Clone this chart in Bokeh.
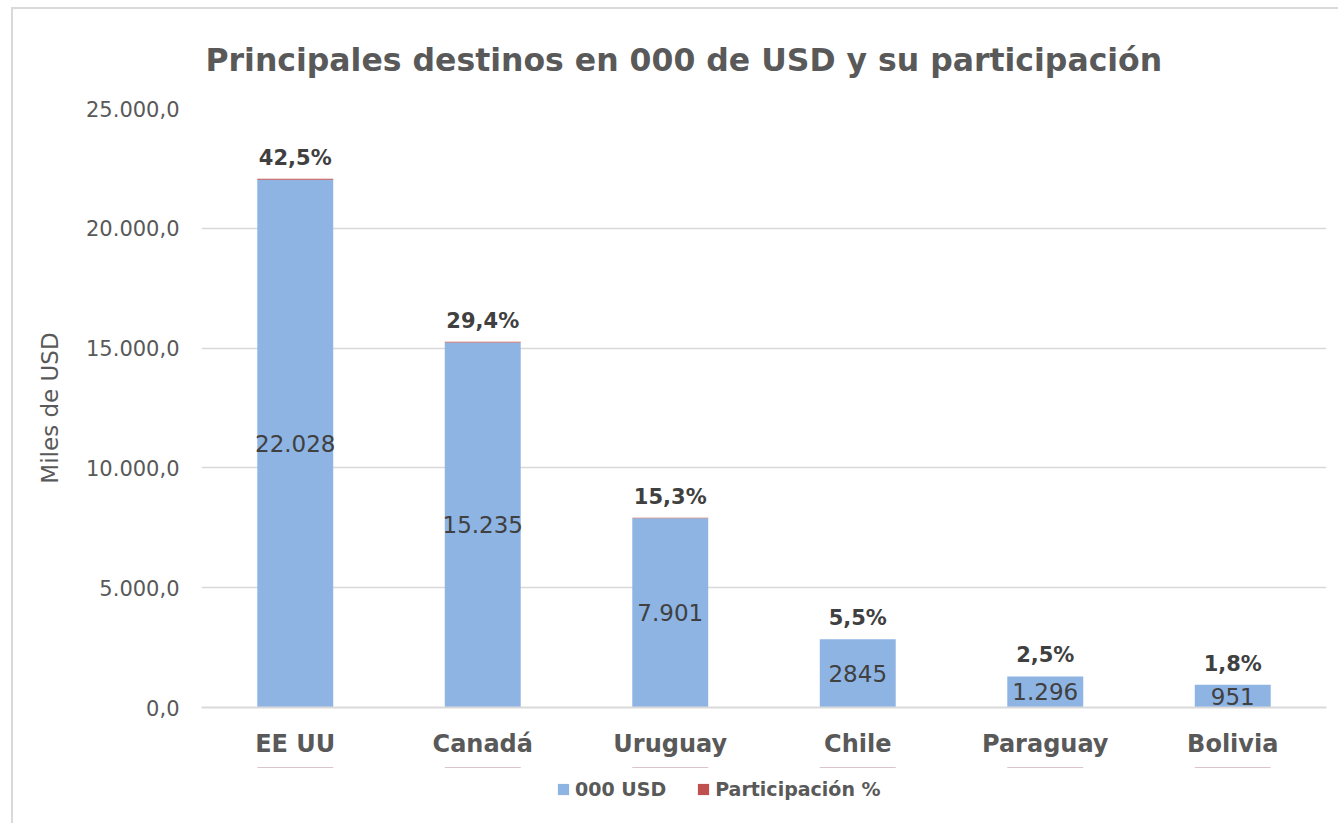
from bokeh.plotting import figure
from bokeh.layouts import column
from bokeh.models import ColumnDataSource, FixedTicker, Legend, LegendItem, Title, Range1d
from bokeh.core.properties import value
from bokeh.embed import file_html
from bokeh.resources import INLINE

countries = ["EE UU", "Canadá", "Uruguay", "Chile", "Paraguay", "Bolivia"]
usd_000 = [22028, 15235, 7901, 2845, 1296, 951]
participacion = [42.5, 29.4, 15.3, 5.5, 2.5, 1.8]
usd_labels = ["22.028", "15.235", "7.901", "2845", "1.296", "951"]
y_ticks = [0, 5000, 10000, 15000, 20000, 25000]
y_tick_labels = ["0,0", "5.000,0", "10.000,0", "15.000,0", "20.000,0", "25.000,0"]
series_names = ["000 USD", "Participación %"]

FONT = "DejaVu Sans"
BLUE = "#8EB4E3"
RED = "#C0504D"
TXT = "#595959"
DARK = "#404040"

src = ColumnDataSource(dict(
    country=countries,
    usd=usd_000,
    part=participacion,
    mid=[v / 2 for v in usd_000],
    top=[v + q for v, q in zip(usd_000, participacion)],
    usd_lbl=usd_labels,
    pct_lbl=[f"{q:.1f}%".replace(".", ",") for q in participacion],
))

p = figure(x_range=countries, y_range=(0, 25000), frame_width=1125, frame_height=599,
           output_backend="svg", toolbar_location=None,
           min_border_left=188, min_border_right=12, min_border_top=98, min_border_bottom=60)

rs = p.vbar_stack(["usd", "part"], x="country", width=0.405, source=src,
                  color=[BLUE, RED], line_color=None)

p.text(x="country", y="mid", text="usd_lbl", source=src, text_align="center",
       text_baseline="middle", text_font=value(FONT), text_font_size="23px", text_color=DARK)
p.text(x="country", y="top", text="pct_lbl", source=src, text_align="center",
       text_baseline="bottom", text_font=value(FONT), text_font_size="21px",
       text_font_style="bold", text_color=DARK, y_offset=-9)

p.title = Title(text="Principales destinos en 000 de USD y su participación",
                align="left", offset=4, text_font=FONT, text_font_size="31.5px",
                text_font_style="bold", text_color=TXT, standoff=61)

p.yaxis.ticker = FixedTicker(ticks=y_ticks)
p.yaxis.major_label_overrides = {t: l for t, l in zip(y_ticks, y_tick_labels)}
p.yaxis.axis_label = "Miles de USD"
p.yaxis.axis_label_text_font = FONT
p.yaxis.axis_label_text_font_size = "23px"
p.yaxis.axis_label_text_font_style = "normal"
p.yaxis.axis_label_text_color = TXT
p.yaxis.axis_label_standoff = 20
p.yaxis.major_label_text_font = FONT
p.yaxis.major_label_text_font_size = "21px"
p.yaxis.major_label_text_color = TXT
p.yaxis.major_label_standoff = 22
p.yaxis.axis_line_color = None
p.yaxis.major_tick_line_color = None
p.yaxis.major_tick_out = 0
p.yaxis.minor_tick_line_color = None
p.yaxis.minor_tick_out = 0

p.xaxis.axis_line_color = "#D9D9D9"
p.xaxis.axis_line_width = 2
p.xaxis.major_tick_line_color = None
p.xaxis.major_tick_out = 0
p.xaxis.major_label_text_font = FONT
p.xaxis.major_label_text_font_size = "24px"
p.xaxis.major_label_text_font_style = "bold"
p.xaxis.major_label_text_color = TXT
p.xaxis.major_label_standoff = 22

p.xgrid.grid_line_color = None
p.ygrid.grid_line_color = "#D9D9D9"
p.ygrid.grid_line_width = 1.5
p.outline_line_color = None

# legend strip below the chart (zero-height series bars out of view; only the legend shows)
lf = figure(width=1325, height=56, x_range=countries, y_range=Range1d(-2, -1),
            output_backend="svg", toolbar_location=None, x_axis_type=None, y_axis_type=None,
            min_border=0, outline_line_color=None)
lf.grid.grid_line_color = None
lr = [lf.vbar(x="country", bottom=col, top=col, width=0.405, source=src,
              color=c, line_color=None)
      for col, c in (("usd", BLUE), ("top", RED))]
legend = Legend(items=[LegendItem(label=n, renderers=[r]) for n, r in zip(series_names, lr)],
                orientation="horizontal", location=(355, 23),
                label_text_font=FONT, label_text_font_size="19px",
                label_text_font_style="bold", label_text_color=TXT,
                glyph_width=14, glyph_height=14, spacing=30, label_standoff=5,
                border_line_color=None, background_fill_alpha=0, padding=0, margin=0)
lf.add_layout(legend, "center")

layout = column(p, lf, spacing=0)
layout.styles = {"border-left": "2px solid #D9D9D9", "border-top": "2px solid #D9D9D9",
                 "margin-left": "11px", "margin-top": "7px"}

open("out.html", "w").write(file_html(layout, INLINE))
